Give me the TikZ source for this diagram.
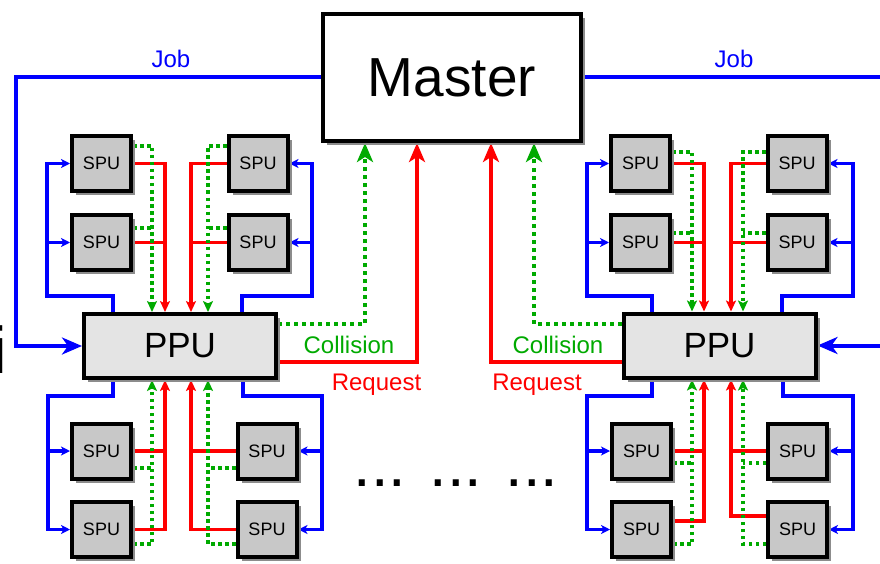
\documentclass[tikz,border=0pt]{standalone}
\usepackage{fontspec}
\setmainfont{Liberation Sans}
\usetikzlibrary{arrows.meta,shadows}
\pgfdeclarelayer{bg}
\pgfsetlayers{bg,main}
\definecolor{cblue}{RGB}{0,0,255}
\definecolor{cred}{RGB}{255,0,0}
\definecolor{cgreen}{RGB}{0,170,0}
\definecolor{spufill}{RGB}{200,200,200}
\definecolor{ppufill}{RGB}{228,228,228}
\tikzset{
  box/.style={draw=black, line width=4pt, inner sep=0pt,
    drop shadow={shadow xshift=4pt, shadow yshift=-4pt, fill=black!45, opacity=1}},
  spubox/.style={box, fill=spufill, minimum width=59pt, minimum height=55pt,
    font=\fontsize{18}{18}\selectfont},
  ppubox/.style={box, fill=ppufill, minimum width=192pt, minimum height=64pt,
    font=\fontsize{35}{35}\selectfont},
  masterbox/.style={box, fill=white, minimum width=258pt, minimum height=127pt,
    font=\fontsize{55}{55}\selectfont},
  lbl/.style={font=\fontsize{24}{24}\selectfont, inner sep=0pt, anchor=base},
  jobline/.style={draw=cblue, line width=4pt, -{Stealth[length=20pt,width=17pt,inset=6pt]}},
  reqline/.style={draw=cred, line width=4pt, -{Stealth[length=19pt,width=16pt,inset=5pt]}},
  colline/.style={draw=cgreen, line width=4pt, dash pattern=on 4pt off 4pt,
    -{Stealth[length=19pt,width=16pt,inset=5pt]}},
  sblue/.style={draw=cblue, line width=3.5pt},
  sred/.style={draw=cred, line width=3.5pt},
  sgreen/.style={draw=cgreen, line width=3.5pt, dash pattern=on 3.5pt off 3.5pt},
  midtip/.style={-{Stealth[length=11pt,width=10pt,inset=2.5pt]}},
  smalltip/.style={-{Stealth[length=9pt,width=9pt,inset=2.5pt]}},
}
\begin{document}
\begin{tikzpicture}[x=1pt,y=-1pt]
\useasboundingbox (0,0) rectangle (880,564);
\clip (0,0) rectangle (880,564);

% ---------- boxes ----------
\node[masterbox] (master) at (452,77.5) {Master};
\node[ppubox] (ppuL) at (180,346) {PPU};
\node[ppubox] (ppuR) at (719.5,345.5) {PPU};

\node[spubox] (LA) at (101.5,163.5) {SPU};
\node[spubox] (LB) at (101.5,242.5) {SPU};
\node[spubox] (LC) at (258,163.5) {SPU};
\node[spubox] (LD) at (258,242.5) {SPU};
\node[spubox] (LE) at (101.5,451) {SPU};
\node[spubox] (LF) at (101.5,529.5) {SPU};
\node[spubox] (LG) at (267,451) {SPU};
\node[spubox] (LH) at (267,529.5) {SPU};

\node[spubox] (RA) at (640.5,163.5) {SPU};
\node[spubox] (RB) at (640.5,242.5) {SPU};
\node[spubox] (RC) at (797,163.5) {SPU};
\node[spubox] (RD) at (797,242.5) {SPU};
\node[spubox] (RE) at (641.5,451) {SPU};
\node[spubox] (RF) at (641.5,529.5) {SPU};
\node[spubox] (RG) at (797.5,451) {SPU};
\node[spubox] (RH) at (797.5,529.5) {SPU};

% ---------- labels ----------
\node[lbl, text=cblue] (jobLlbl) at (171,68) {Job};
\node[lbl, text=cblue] (jobRlbl) at (734,68) {Job};
\node[lbl, text=cgreen] (colL) at (349,353) {Collision};
\node[lbl, text=cred] (reqL) at (376.5,390) {Request};
\node[lbl, text=cgreen] (colR) at (558,353) {Collision};
\node[lbl, text=cred] (reqR) at (537,390) {Request};
\node[font=\fontsize{63}{63}\selectfont, inner sep=0pt, anchor=base] (dots) at (456,486) {... ... ...};
\node[font=\fontsize{66}{66}\selectfont, inner sep=0pt, anchor=base west] (cut) at (-8,373) {i};

% ---------- helper coordinates ----------
\coordinate (jL) at (16,0);
\coordinate (jR) at (900,0);
\coordinate (mg1) at (365,0);
\coordinate (mr1) at (417,0);
\coordinate (mr2) at (491,0);
\coordinate (mg2) at (534,0);
\coordinate (PLg) at ([yshift=22pt]ppuL.east);
\coordinate (PLr) at ([yshift=-16pt]ppuL.east);
\coordinate (PRg) at ([yshift=21.5pt]ppuR.west);
\coordinate (PRr) at ([yshift=-16.5pt]ppuR.west);

\coordinate (Lg1) at (152,0);
\coordinate (Lr1) at (165,0);
\coordinate (Lr2) at (191,0);
\coordinate (Lg2) at (208,0);
\coordinate (Lb1) at (113,0);
\coordinate (Lb2) at (242,0);
\coordinate (Lb3) at (243,0);
\coordinate (LbTL) at (47,296);
\coordinate (LbTR) at (312,296);
\coordinate (LbBL) at (48,396);
\coordinate (LbBR) at (322,396);
\coordinate (LAg) at ([yshift=17.5pt]LA.east);
\coordinate (LBg) at ([yshift=14.5pt]LB.east);
\coordinate (LCg) at ([yshift=17.5pt]LC.west);
\coordinate (LDg) at ([yshift=14.5pt]LD.west);
\coordinate (LEg) at ([yshift=-17pt]LE.east);
\coordinate (LFg) at ([yshift=-14.5pt]LF.east);
\coordinate (LGg) at ([yshift=-17pt]LG.west);
\coordinate (LHg) at ([yshift=-14.5pt]LH.west);

\coordinate (Rg1) at (692,0);
\coordinate (Rr1) at (704,0);
\coordinate (Rr2) at (731,0);
\coordinate (Rg2) at (743,0);
\coordinate (Rb1) at (652,0);
\coordinate (Rb2) at (782,0);
\coordinate (Rb3) at (783,0);
\coordinate (RbTL) at (587,296);
\coordinate (RbTR) at (853,296);
\coordinate (RbBL) at (587,396);
\coordinate (RbBR) at (853,396);
\coordinate (RAg) at ([yshift=11.5pt]RA.east);
\coordinate (RBg) at ([yshift=9.5pt]RB.east);
\coordinate (RCg) at ([yshift=11.5pt]RC.west);
\coordinate (RDg) at ([yshift=9.5pt]RD.west);
\coordinate (REg) at ([yshift=-12pt]RE.east);
\coordinate (RFg) at ([yshift=-14.5pt]RF.east);
\coordinate (RGg) at ([yshift=-12pt]RG.west);
\coordinate (RHg) at ([yshift=-14.5pt]RH.west);
\coordinate (RFr) at ([yshift=8.5pt]RF.east);
\coordinate (RHr) at ([yshift=13.5pt]RH.west);

% ---------- connectors ----------
\begin{pgfonlayer}{bg}
\fill[white] (0,0) rectangle (880,564);
\clip (0,0) rectangle (880,564);
% jobs
\draw[jobline] (master.west) -- (master.west -| jL) |- (ppuL.west);
\draw[jobline] (master.east) -- (master.east -| jR) |- (ppuR.east);
% PPU -> Master
\draw[colline] (PLg) -| (mg1 |- master.south);
\draw[reqline] (PLr) -| (mr1 |- master.south);
\draw[colline] (PRg) -| (mg2 |- master.south);
\draw[reqline] (PRr) -| (mr2 |- master.south);

% left cluster: blue
\draw[sblue, smalltip] (Lb1 |- ppuL.north) |- (LbTL) |- (LA.west);
\draw[sblue, smalltip] (LB.west -| LbTL) -- (LB.west);
\draw[sblue, smalltip] (Lb2 |- ppuL.north) |- (LbTR) |- (LC.east);
\draw[sblue, smalltip] (LD.east -| LbTR) -- (LD.east);
\draw[sblue, smalltip] (Lb1 |- ppuL.south) |- (LbBL) |- (LF.west);
\draw[sblue, smalltip] (LE.west -| LbBL) -- (LE.west);
\draw[sblue, smalltip] (Lb3 |- ppuL.south) |- (LbBR) |- (LH.east);
\draw[sblue, smalltip] (LG.east -| LbBR) -- (LG.east);
% left cluster: red
\draw[sred, midtip] (LA.east) -| (Lr1 |- ppuL.north);
\draw[sred] (LB.east) -- (LB.east -| Lr1);
\draw[sred, midtip] (LC.west) -| (Lr2 |- ppuL.north);
\draw[sred] (LD.west) -- (LD.west -| Lr2);
\draw[sred, midtip] (LF.east) -| (Lr1 |- ppuL.south);
\draw[sred] (LE.east) -- (LE.east -| Lr1);
\draw[sred, midtip] (LH.west) -| (Lr2 |- ppuL.south);
\draw[sred] (LG.west) -- (LG.west -| Lr2);
% left cluster: green
\draw[sgreen, midtip] (LAg) -| (Lg1 |- ppuL.north);
\draw[sgreen] (LBg) -- (LBg -| Lg1);
\draw[sgreen, midtip] (LCg) -| (Lg2 |- ppuL.north);
\draw[sgreen] (LDg) -- (LDg -| Lg2);
\draw[sgreen, midtip] (LFg) -| (Lg1 |- ppuL.south);
\draw[sgreen] (LEg) -- (LEg -| Lg1);
\draw[sgreen, midtip] (LHg) -| (Lg2 |- ppuL.south);
\draw[sgreen] (LGg) -- (LGg -| Lg2);

% right cluster: blue
\draw[sblue, smalltip] (Rb1 |- ppuR.north) |- (RbTL) |- (RA.west);
\draw[sblue, smalltip] (RB.west -| RbTL) -- (RB.west);
\draw[sblue, smalltip] (Rb2 |- ppuR.north) |- (RbTR) |- (RC.east);
\draw[sblue, smalltip] (RD.east -| RbTR) -- (RD.east);
\draw[sblue, smalltip] (Rb1 |- ppuR.south) |- (RbBL) |- (RF.west);
\draw[sblue, smalltip] (RE.west -| RbBL) -- (RE.west);
\draw[sblue, smalltip] (Rb3 |- ppuR.south) |- (RbBR) |- (RH.east);
\draw[sblue, smalltip] (RG.east -| RbBR) -- (RG.east);
% right cluster: red
\draw[sred, midtip] (RA.east) -| (Rr1 |- ppuR.north);
\draw[sred] (RB.east) -- (RB.east -| Rr1);
\draw[sred, midtip] (RC.west) -| (Rr2 |- ppuR.north);
\draw[sred] (RD.west) -- (RD.west -| Rr2);
\draw[sred, midtip] (RFr) -| (Rr1 |- ppuR.south);
\draw[sred] (RE.east) -- (RE.east -| Rr1);
\draw[sred, midtip] (RHr) -| (Rr2 |- ppuR.south);
\draw[sred] (RG.west) -- (RG.west -| Rr2);
% right cluster: green
\draw[sgreen, midtip] (RAg) -| (Rg1 |- ppuR.north);
\draw[sgreen] (RBg) -- (RBg -| Rg1);
\draw[sgreen, midtip] (RCg) -| (Rg2 |- ppuR.north);
\draw[sgreen] (RDg) -- (RDg -| Rg2);
\draw[sgreen, midtip] (RFg) -| (Rg1 |- ppuR.south);
\draw[sgreen] (REg) -- (REg -| Rg1);
\draw[sgreen, midtip] (RHg) -| (Rg2 |- ppuR.south);
\draw[sgreen] (RGg) -- (RGg -| Rg2);
\end{pgfonlayer}
\end{tikzpicture}
\end{document}
